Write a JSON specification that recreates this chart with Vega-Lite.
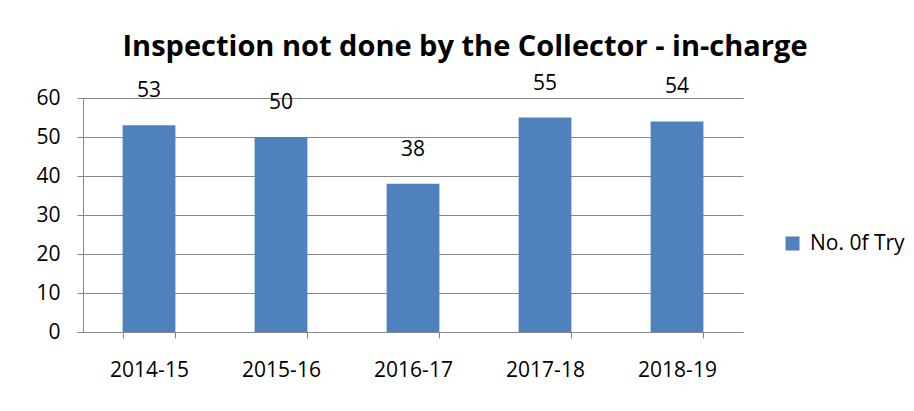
{
  "$schema": "https://vega.github.io/schema/vega-lite/v6.json",
  "autosize": {"type": "none"},
  "width": 660,
  "height": 234,
  "padding": {"left": 83, "top": 98, "right": 171, "bottom": 79},
  "background": "white",
  "title": {
    "text": "Inspection not done by the Collector - in-charge",
    "font": "Open Sans",
    "fontSize": 29,
    "fontWeight": "bold",
    "color": "#000000",
    "frame": "group",
    "anchor": "middle",
    "baseline": "alphabetic",
    "offset": -12,
    "dx": 52
  },
  "data": {
    "values": [
      {"year": "2014-15", "value": 53, "series": "No. 0f Try"},
      {"year": "2015-16", "value": 50, "series": "No. 0f Try"},
      {"year": "2016-17", "value": 38, "series": "No. 0f Try"},
      {"year": "2017-18", "value": 55, "series": "No. 0f Try"},
      {"year": "2018-19", "value": 54, "series": "No. 0f Try"}
    ]
  },
  "encoding": {
    "x": {
      "field": "year",
      "type": "nominal",
      "sort": null,
      "scale": {"paddingInner": 0.6, "paddingOuter": 0.3},
      "axis": {
        "title": null,
        "labelAngle": 0,
        "labelFont": "Open Sans",
        "labelFontSize": 21,
        "labelColor": "#000000",
        "labelPadding": 21,
        "tickBand": "extent",
        "tickSize": 6,
        "tickColor": "#878787",
        "domainColor": "#878787",
        "grid": false
      }
    },
    "y": {
      "field": "value",
      "type": "quantitative",
      "scale": {"domain": [0, 60], "nice": false},
      "axis": {
        "title": null,
        "values": [0, 10, 20, 30, 40, 50, 60],
        "labelFont": "Open Sans",
        "labelFontSize": 21,
        "labelColor": "#000000",
        "labelPadding": 17,
        "tickSize": 6,
        "tickColor": "#878787",
        "domainColor": "#878787",
        "grid": true,
        "gridColor": "#878787",
        "gridWidth": 1
      }
    }
  },
  "layer": [
    {
      "mark": {"type": "bar", "color": "#4F81BD"},
      "encoding": {
        "color": {
          "field": "series",
          "type": "nominal",
          "scale": {"range": ["#4F81BD"]},
          "legend": {
            "title": null,
            "orient": "none",
            "legendX": 699,
            "legendY": 135,
            "padding": 0,
            "symbolType": "square",
            "symbolSize": 196,
            "symbolStrokeWidth": 0,
            "labelFont": "Open Sans",
            "labelFontSize": 21,
            "labelColor": "#000000",
            "labelOffset": 7
          }
        }
      }
    },
    {
      "mark": {
        "type": "text",
        "font": "Open Sans",
        "fontSize": 21,
        "color": "#000000",
        "baseline": "middle",
        "dy": -34
      },
      "encoding": {"text": {"field": "value", "type": "quantitative"}}
    }
  ],
  "config": {"view": {"stroke": null}}
}
